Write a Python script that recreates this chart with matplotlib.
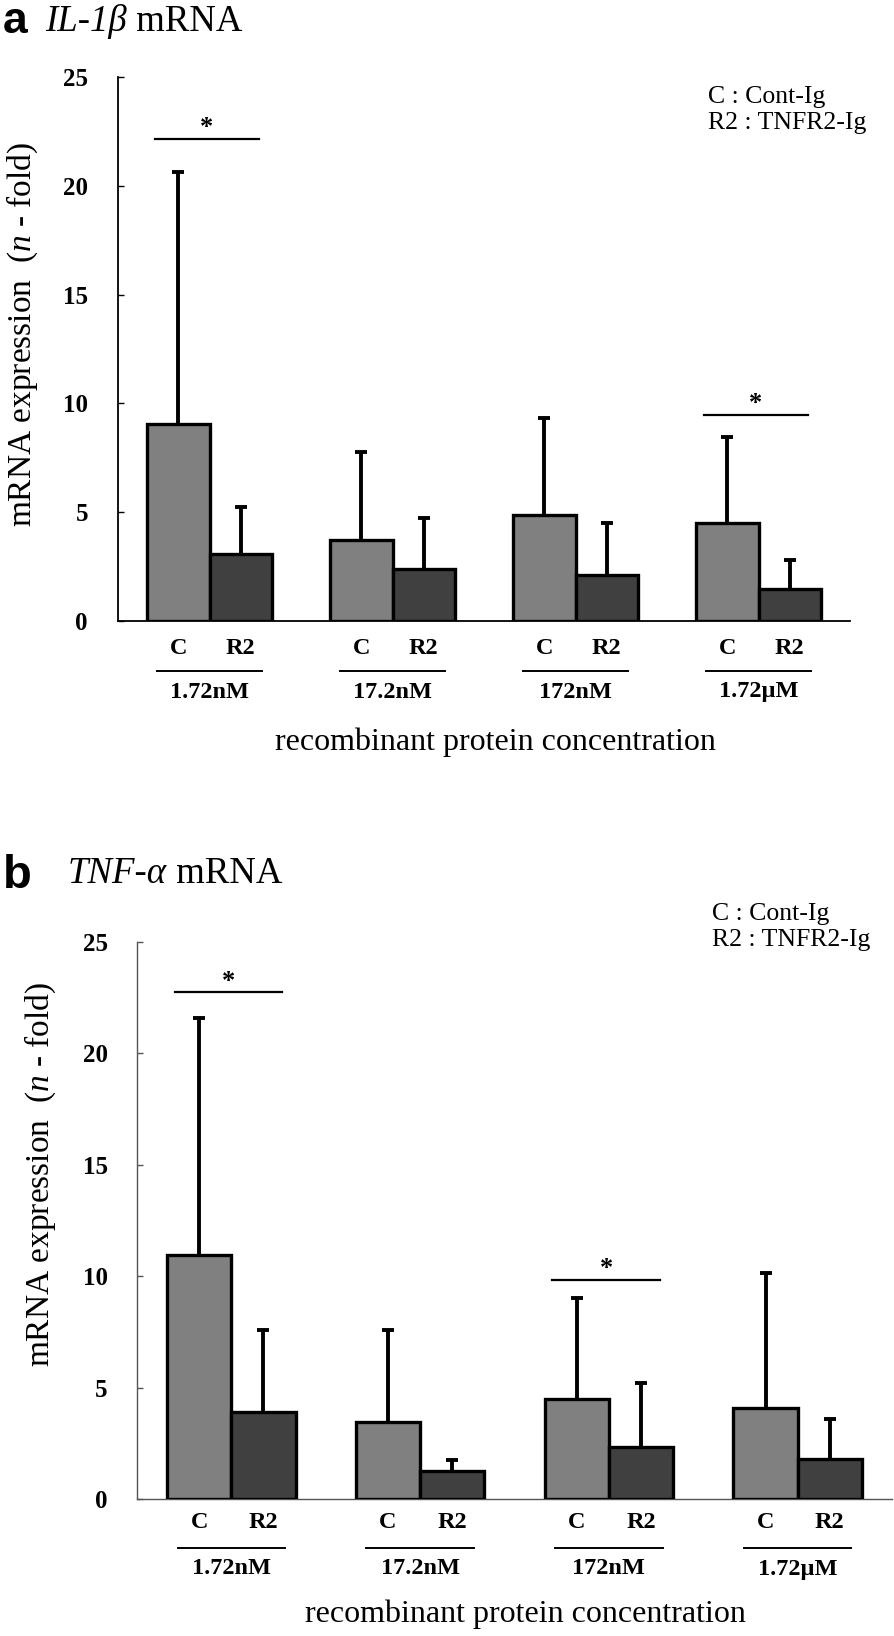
"""Bar charts of IL-1b and TNF-a mRNA expression with Cont-Ig vs TNFR2-Ig."""

import matplotlib
matplotlib.use("Agg")
import matplotlib.pyplot as plt
import numpy as np

groups = ["1.72nM", "17.2nM", "172nM", "1.72\u00b5M"]
bar_labels = ["C", "R2"]

il1b_cont = [9.05, 3.72, 4.87, 4.50]
il1b_cont_sd = [11.60, 4.05, 4.46, 3.96]
il1b_tnfr2 = [3.10, 2.39, 2.11, 1.47]
il1b_tnfr2_sd = [2.14, 2.34, 2.39, 1.33]
il1b_sig = [(0, 22.15), (3, 9.47)]

tnfa_cont = [10.95, 3.45, 4.50, 4.08]
tnfa_cont_sd = [10.65, 4.13, 4.50, 6.06]
tnfa_tnfr2 = [3.90, 1.26, 2.33, 1.80]
tnfa_tnfr2_sd = [3.68, 0.49, 2.87, 1.79]
tnfa_sig = [(0, 22.75), (2, 9.83)]

SERIF = "Liberation Serif"
plt.rcParams.update({
    "font.family": SERIF,
    "mathtext.fontset": "custom",
    "mathtext.rm": SERIF,
    "mathtext.it": SERIF + ":italic",
})

W, H = 894, 1636


def fx(px):
    return px / W


def fy(py):
    return 1 - py / H


def upper_errorbar(ax, xs, means, sds):
    eb = ax.errorbar(xs, means, yerr=[np.zeros(len(xs)), sds], fmt="none",
                     ecolor="black", elinewidth=2.8, capsize=4, capthick=2.8, zorder=2)
    # hide the cap that sits on the bar top (lower error is zero)
    for cap in eb[1]:
        if np.allclose(cap.get_ydata(), means):
            cap.set_visible(False)


def draw_panel(ax, cont, cont_sd, tnfr2, tnfr2_sd, sig, spine_color, lw,
               ypad, ylab_xy, xlab_xy, offs):
    x = np.arange(len(groups))
    width = 0.34
    ax.bar(x - width / 2, cont, width, color="#808080", edgecolor="black", linewidth=2.4, zorder=3)
    ax.bar(x + width / 2, tnfr2, width, color="#404040", edgecolor="black", linewidth=2.4, zorder=3)
    upper_errorbar(ax, x - width / 2, cont, cont_sd)
    upper_errorbar(ax, x + width / 2, tnfr2, tnfr2_sd)

    for g, y in sig:
        ax.plot([g - 0.30, g + 0.27], [y, y], color="black", lw=1.6, clip_on=False)
        ax.annotate("*", xy=(g - 0.015, y), xytext=(0, 8), textcoords="offset points",
                    ha="center", va="center", fontsize=19, fontweight="bold")

    ax.set_xlim(-0.5, 3.5)
    ax.set_ylim(0, 25)
    ax.set_yticks(np.arange(0, 26, 5))
    ax.set_xticks([])
    ax.tick_params(axis="y", direction="in", length=4.5, width=1.0, pad=ypad,
                   labelsize=18, color=spine_color)
    for lab in ax.get_yticklabels():
        lab.set_fontweight("bold")
    ax.spines[["top", "right"]].set_visible(False)
    for s in ["left", "bottom"]:
        ax.spines[s].set_color(spine_color)
        ax.spines[s].set_linewidth(lw)

    c_off, line_off, g_off = offs
    trans = ax.get_xaxis_transform()
    bbox_h = ax.get_position().height * H
    for i, gname in enumerate(groups):
        for j, bl in enumerate(bar_labels):
            ax.annotate(bl, xy=(i + (j - 0.5) * width, 0), xycoords=("data", "axes fraction"),
                        xytext=(0, -c_off * 0.72), textcoords="offset points",
                        ha="center", va="center", fontsize=17.5, fontweight="bold")
        ax.plot([i - 0.285, i + 0.285], [-line_off / bbox_h] * 2, transform=trans,
                color="black", lw=1.4, clip_on=False)
        ax.annotate(gname, xy=(i, 0), xycoords=("data", "axes fraction"),
                    xytext=(0, -g_off * 0.72), textcoords="offset points",
                    ha="center", va="center", fontsize=17.5, fontweight="bold")

    ax.set_ylabel(r"mRNA expression  ($\mathit{n}$ - fold)", fontsize=24)
    ax.yaxis.set_label_coords(*ylab_xy)
    ax.set_xlabel("recombinant protein concentration", fontsize=23)
    ax.xaxis.set_label_coords(*xlab_xy)


fig = plt.figure(figsize=(W / 100, H / 100), dpi=100)

ax_a = fig.add_axes([fx(118), fy(621), fx(850 - 118), (621 - 77) / H])
draw_panel(ax_a, il1b_cont, il1b_cont_sd, il1b_tnfr2, il1b_tnfr2_sd, il1b_sig,
           "black", 1.3, 21.6, (-0.106, 0.526), (0.515, -0.195), (27, 50, 71))

ax_b = fig.add_axes([fx(137), fy(1499), fx(892 - 137), (1499 - 942) / H])
draw_panel(ax_b, tnfa_cont, tnfa_cont_sd, tnfa_tnfr2, tnfa_tnfr2_sd, tnfa_sig,
           "#555555", 1.0, 21.0, (-0.105, 0.583), (0.515, -0.181), (23, 49, 70))

# panel headings
fig.text(fx(3), fy(33), "a", family="Liberation Sans", fontweight="bold", fontsize=32,
         va="baseline")
t1 = fig.text(fx(45), fy(31), "IL-1\u03b2", fontstyle="italic", fontsize=26.5, va="baseline")
fig.text(fx(3), fy(888), "b", family="Liberation Sans", fontweight="bold", fontsize=34,
         va="baseline")
t2 = fig.text(fx(68), fy(883), "TNF-\u03b1", fontstyle="italic", fontsize=26.5, va="baseline")
for t in (t1, t2):
    fig.canvas.draw()
    ax_a.annotate(" mRNA", xy=(1, 0), xycoords=t, xytext=(0, 0), textcoords="offset points",
                  ha="left", va="bottom", fontsize=26.5, annotation_clip=False)

# key text
fig.text(fx(708), fy(86), "C : Cont-Ig\nR2 : TNFR2-Ig", fontsize=18.5, va="top",
         linespacing=1.25)
fig.text(fx(712), fy(903), "C : Cont-Ig\nR2 : TNFR2-Ig", fontsize=18.5, va="top",
         linespacing=1.25)

fig.savefig("out.png", dpi=100)
